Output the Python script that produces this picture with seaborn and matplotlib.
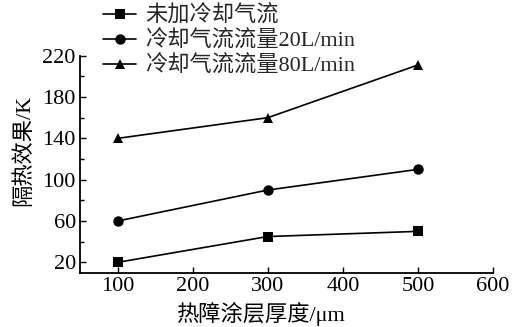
import matplotlib
matplotlib.use("Agg")
import matplotlib.pyplot as plt
from matplotlib.ticker import MultipleLocator
import pandas as pd
import seaborn as sns

thickness = [100, 300, 500]
no_cooling = [20, 45, 50]
flow_20 = [60, 90, 110]
flow_80 = [140, 160, 211]
series_names = ["未加冷却气流", "冷却气流流量20L/min", "冷却气流流量80L/min"]

df = pd.DataFrame({
    "thickness": thickness * 3,
    "effect": no_cooling + flow_20 + flow_80,
    "series": [series_names[0]] * 3 + [series_names[1]] * 3 + [series_names[2]] * 3,
})

sns.set_theme(style="ticks")
plt.rcParams["font.family"] = ["Liberation Serif", "Noto Sans CJK SC"]

fig = plt.figure(figsize=(5.23, 3.27), dpi=100)
ax_left, ax_right, ax_top, ax_bottom = 80, 493, 55.7, 272.7
ax = fig.add_axes([ax_left / 523, 1 - ax_bottom / 327,
                   (ax_right - ax_left) / 523, (ax_bottom - ax_top) / 327])

sns.lineplot(
    data=df, x="thickness", y="effect", hue="series", style="series",
    palette=["black"] * 3, markers=["s", "o", "^"], dashes=False,
    markersize=7.5, linewidth=1.2, markeredgewidth=0, ax=ax,
)

ax.set_xlim(50, 600)
ax.set_ylim(10, 220)
ax.set_xticks([100, 200, 300, 400, 500, 600])
ax.set_yticks([20, 60, 100, 140, 180, 220])
ax.yaxis.set_minor_locator(MultipleLocator(20))
ax.tick_params(axis="both", which="major", direction="in", colors="black",
               labelsize=16, width=1, length=4, pad=3)
ax.tick_params(axis="y", which="minor", direction="in", length=3, width=1, colors="black")
for side in ("top", "right"):
    ax.spines[side].set_visible(False)
for side in ("left", "bottom"):
    ax.spines[side].set_color("black")
    ax.spines[side].set_linewidth(1.3)

ax.set_xlabel("热障涂层厚度/μm", fontsize=16, color="black")
ax.set_ylabel("隔热效果/K", fontsize=16, color="black")
w, h = ax_right - ax_left, ax_bottom - ax_top
ax.xaxis.set_label_coords((260 - ax_left) / w, (ax_bottom - 302) / h)
ax.yaxis.set_label_coords((34 - ax_left) / w, (ax_bottom - 150) / h)

handles, labels = ax.get_legend_handles_labels()
if ax.legend_:
    ax.legend_.remove()
fig.legend(handles, labels, loc="upper left",
           bbox_to_anchor=(103 / 523, 1 - 5 / 327), frameon=False,
           fontsize=16, handlelength=1.5, handletextpad=0.4,
           labelspacing=0.18, borderpad=0, borderaxespad=0)

fig.savefig("out.png", dpi=100)
